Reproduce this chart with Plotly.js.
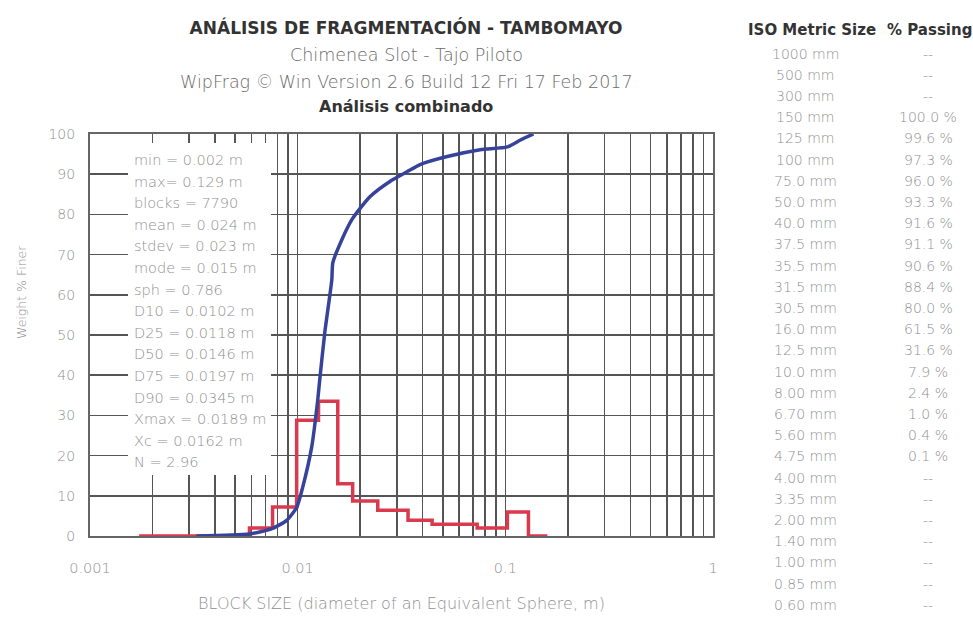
<!DOCTYPE html>
<html>
<head>
<meta charset="utf-8">
<script src="https://cdn.plot.ly/plotly-3.0.1.min.js"></script>
<style>html,body{margin:0;padding:0;background:#fff;}#chart{width:973px;height:617px;}</style>
</head>
<body>
<div id="chart"></div>
<script>
// ---- data ----
const histSize = [0.001725, 0.00586, 0.00757, 0.00989, 0.0126, 0.0156, 0.0184, 0.0243, 0.0340, 0.0444, 0.0732, 0.1023, 0.1292, 0.1595];
const histPct  = [0, 2, 7.2, 28.8, 33.5, 13, 8.7, 6.4, 3.9, 2.9, 2, 6, 0, 0];

const cumSize = [0.00325, 0.00586, 0.00757, 0.00885, 0.00989, 0.01057, 0.01168, 0.01249, 0.01277, 0.01350, 0.01460, 0.01477, 0.01632, 0.01824, 0.02228, 0.02782, 0.03362, 0.03885, 0.05246, 0.07568, 0.1023, 0.1182, 0.1366];
const cumPct  = [0, 0.5, 1.9, 3.9, 7.1, 12.1, 22.1, 33.8, 38.8, 50.5, 63.7, 68, 73.7, 78.7, 84.4, 88.2, 90.6, 92.4, 94.4, 96.1, 96.8, 98.5, 100];

const decades = [0.001, 0.01, 0.1, 1];
const decadeLabels = ["0.001", "0.01", "0.1", "1"];
const yTicks = [0, 10, 20, 30, 40, 50, 60, 70, 80, 90, 100];

const statLines = ["min = 0.002 m", "max= 0.129 m", "blocks = 7790", "mean = 0.024 m", "stdev = 0.023 m",
  "mode = 0.015 m", "sph = 0.786", "D10 = 0.0102 m", "D25 = 0.0118 m", "D50 = 0.0146 m",
  "D75 = 0.0197 m", "D90 = 0.0345 m", "Xmax = 0.0189 m", "Xc = 0.0162 m", "N = 2.96"];

const isoSizes = ["1000 mm","500 mm","300 mm","150 mm","125 mm","100 mm","75.0 mm","50.0 mm","40.0 mm",
  "37.5 mm","35.5 mm","31.5 mm","30.5 mm","16.0 mm","12.5 mm","10.0 mm","8.00 mm","6.70 mm","5.60 mm",
  "4.75 mm","4.00 mm","3.35 mm","2.00 mm","1.40 mm","1.00 mm","0.85 mm","0.60 mm"];
const passing = ["--","--","--","100.0 %","99.6 %","97.3 %","96.0 %","93.3 %","91.6 %","91.1 %","90.6 %",
  "88.4 %","80.0 %","61.5 %","31.6 %","7.9 %","2.4 %","1.0 %","0.4 %","0.1 %","--","--","--","--","--","--","--"];

const titleText = "ANÁLISIS DE FRAGMENTACIÓN - TAMBOMAYO";
const subTitles = ["Chimenea Slot - Tajo Piloto", "WipFrag © Win Version 2.6 Build 12 Fri 17 Feb 2017"];
const subTitleBold = "Análisis combinado";
const xTitle = "BLOCK SIZE (diameter of an Equivalent Sphere, m)";
const yTitle = "Weight % Finer";
const tableHeaders = ["ISO Metric Size", "% Passing"];

// ---- layout helpers ----
const W = 973, H = 617;
const L = 90, R = 713, T = 134, B = 536;
const px = x => (x - L) / (R - L);
const py = y => (B - y) / (B - T);

// log tick values with minor grid at 1..9
const tickvals = [], ticktext = [];
decades.forEach((d, i) => {
  if (i < decades.length - 1) {
    for (let m = 1; m <= 9; m++) { tickvals.push(d * m); ticktext.push(m === 1 ? decadeLabels[i] : ""); }
  } else { tickvals.push(d); ticktext.push(decadeLabels[i]); }
});

const FONT = "DejaVu Sans, Verdana, sans-serif";
const GRAY = "#8f8f8f";
const DARK = "#333333";
const LIGHT = 300;

const annotations = [];
// subtitles
const subY = [55, 82];
subTitles.forEach((t, i) => annotations.push({
  xref: "paper", yref: "paper", x: px(406), y: py(subY[i]), xanchor: "center", yanchor: "middle",
  text: t, showarrow: false, font: {family: FONT, size: 17.5, color: "#6a6a6a", weight: LIGHT}
}));
annotations.push({
  xref: "paper", yref: "paper", x: px(406), y: py(107), xanchor: "center", yanchor: "middle",
  text: "<b>" + subTitleBold + "</b>", showarrow: false, font: {family: FONT, size: 16, color: DARK}
});
// y axis title
annotations.push({
  xref: "paper", yref: "paper", x: px(21), y: py(292), xanchor: "center", yanchor: "middle", textangle: -90,
  text: yTitle, showarrow: false, font: {family: FONT, size: 12.5, color: GRAY, weight: LIGHT}
});
// stats box
statLines.forEach((t, i) => annotations.push({
  xref: "paper", yref: "paper", x: px(132), y: py(160 + 21.6 * i), xanchor: "left", yanchor: "middle",
  text: t, showarrow: false, font: {family: FONT, size: 14.5, color: GRAY, weight: LIGHT}
}));
// table
annotations.push({xref: "paper", yref: "paper", x: px(812), y: py(30), xanchor: "center", yanchor: "middle",
  text: "<b>" + tableHeaders[0] + "</b>", showarrow: false, font: {family: FONT, size: 15, color: DARK}});
annotations.push({xref: "paper", yref: "paper", x: px(929), y: py(30), xanchor: "center", yanchor: "middle",
  text: "<b>" + tableHeaders[1] + "</b>", showarrow: false, font: {family: FONT, size: 15, color: DARK}});
isoSizes.forEach((s, i) => {
  const yy = 53.5 + 21.2 * i;
  annotations.push({xref: "paper", yref: "paper", x: px(805), y: py(yy), xanchor: "center", yanchor: "middle",
    text: s, showarrow: false, font: {family: FONT, size: 14, color: GRAY, weight: LIGHT}});
  annotations.push({xref: "paper", yref: "paper", x: px(928), y: py(yy), xanchor: "center", yanchor: "middle",
    text: passing[i], showarrow: false, font: {family: FONT, size: 14, color: GRAY, weight: LIGHT}});
});

const traces = [
  {x: histSize, y: histPct, type: "scatter", mode: "lines", line: {shape: "hv", color: "#d93a4e", width: 3.5},
   name: "Histogram", hoverinfo: "x+y"},
  {x: cumSize, y: cumPct, type: "scatter", mode: "lines", line: {shape: "spline", smoothing: 0.6, color: "#37439a", width: 3.5},
   name: "Cumulative", hoverinfo: "x+y"}
];

const layout = {
  width: W, height: H,
  margin: {l: L, r: W - R, t: T, b: H - B, pad: 0},
  paper_bgcolor: "#fff", plot_bgcolor: "#fff",
  showlegend: false,
  title: {text: "<b>" + titleText + "</b>", x: px(406), xref: "paper", xanchor: "center",
          y: 1 - 28 / H, yref: "container", yanchor: "middle",
          font: {family: FONT, size: 17, color: DARK}},
  xaxis: {
    type: "log", range: [-3, 0], tickvals: tickvals, ticktext: ticktext,
    showgrid: true, gridcolor: "#555", gridwidth: 1.6,
    showline: true, linecolor: "#666", linewidth: 2, mirror: true,
    ticks: "outside", ticklen: 18, tickcolor: "rgba(0,0,0,0)",
    tickfont: {family: FONT, size: 14.5, color: GRAY, weight: LIGHT},
    zeroline: false, fixedrange: true,
    title: {text: xTitle, font: {family: FONT, size: 16, color: GRAY, weight: LIGHT}, standoff: 22}
  },
  yaxis: {
    range: [0, 100], tickvals: yTicks,
    showgrid: true, gridcolor: "#555", gridwidth: 1.6,
    showline: true, linecolor: "#666", linewidth: 2, mirror: true,
    ticks: "outside", ticklen: 10, tickcolor: "rgba(0,0,0,0)",
    tickfont: {family: FONT, size: 14, color: GRAY, weight: LIGHT},
    zeroline: false, fixedrange: true
  },
  shapes: [
    {type: "rect", xref: "paper", yref: "paper", x0: px(128), x1: px(271), y0: py(475), y1: py(143),
     fillcolor: "#fff", line: {width: 0}, layer: "above"}
  ],
  annotations: annotations
};

Plotly.newPlot("chart", traces, layout, {displayModeBar: false, staticPlot: true});
</script>
</body>
</html>
